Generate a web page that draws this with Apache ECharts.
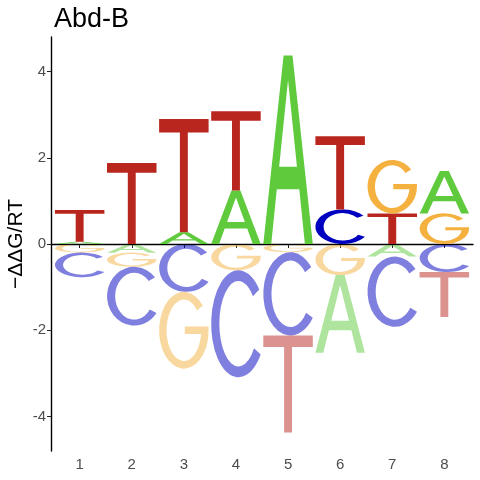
<!DOCTYPE html>
<html>
<head>
<meta charset="utf-8">
<script src="https://cdn.jsdelivr.net/npm/echarts@6/dist/echarts.min.js"></script>
<style>
  html, body { margin: 0; padding: 0; background: #fff; }
  #logo { width: 480px; height: 480px; }
</style>
</head>
<body>
<div id="logo"></div>
<script>
// positions along the motif
var positions = [1, 2, 3, 4, 5, 6, 7, 8];
// -ddG/RT per base at each position (each column sums to ~0)
var valuesA = [0.05, -0.20, 0.27, 1.24, 4.37, -1.80, -0.29, 0.98];
var valuesC = [-0.57, -1.36, -1.11, -2.48, -1.93, 0.80, -1.63, -0.65];
var valuesG = [-0.20, -0.33, -1.78, -0.61, -0.19, -0.72, 1.24, 0.71];
var valuesT = [0.74, 1.88, 2.63, 1.84, -2.25, 1.70, 0.71, -1.04];
var yTicks = [-4, -2, 0, 2, 4];

var bases = ['A', 'C', 'G', 'T'];
var baseColors = ['#5ECA3C', '#0000C0', '#F4B13F', '#B9261E'];

// letter outlines in a 100 x 100 box, stretched into each stack cell
var glyphs = {
    A: 'M0,100 L41,0 L59,0 L100,100 L84,100 L72.7,71 L27.3,71 L16,100 Z M32,59 L68,59 L50,13 Z',
    C: 'M88.3,17.9 A50,50 0 1 0 91,78.7 L78.7,72.9 A35,40 0 1 1 76.8,24.3 Z',
    G: 'M88.3,17.9 A50,50 0 1 0 100,50 L100,45 L52,45 L52,55 L84.8,55 A35,40 0 1 1 76.8,24.3 Z',
    T: 'M0,0 L100,0 L100,12 L58,12 L58,100 L42,100 L42,12 L0,12 Z'
};

var halfWidth = 0.475;

/**
 * 把每个位置的碱基值堆叠起来
 * 正值从0往上，负值从0往下，小的靠近0
 */
function buildStacks() {
    var all = [valuesA, valuesC, valuesG, valuesT];
    var items = [];
    for (var i = 0; i < positions.length; i++) {
        var pos = [], neg = [];
        for (var b = 0; b < bases.length; b++) {
            var v = all[b][i];
            if (v >= 0) pos.push([b, v]); else neg.push([b, v]);
        }
        pos.sort(function (a, c) { return a[1] - c[1]; });
        neg.sort(function (a, c) { return c[1] - a[1]; });
        var top = 0;
        pos.forEach(function (p) {
            items.push([positions[i], top, top + p[1], p[0], 0]);
            top += p[1];
        });
        var bottom = 0;
        neg.forEach(function (p) {
            items.push([positions[i], bottom + p[1], bottom, p[0], 1]);
            bottom += p[1];
        });
    }
    return items;
}

function renderLetter(params, api) {
    var x = api.value(0);
    var lo = api.value(1);
    var hi = api.value(2);
    var b = api.value(3);
    var faded = api.value(4);
    var p0 = api.coord([x - halfWidth, hi]);
    var p1 = api.coord([x + halfWidth, lo]);
    return {
        type: 'path',
        shape: {
            pathData: glyphs[bases[b]],
            layout: 'cover',
            x: p0[0],
            y: p0[1],
            width: p1[0] - p0[0],
            height: p1[1] - p0[1]
        },
        style: {
            fill: baseColors[b],
            opacity: faded ? 0.5 : 1
        }
    };
}

var chart = echarts.init(document.getElementById('logo'));
var option = {
    animation: false,
    backgroundColor: '#fff',
    textStyle: { fontFamily: 'Liberation Sans, Arial, sans-serif' },
    title: {
        text: 'Abd-B',
        left: 49,
        top: 1,
        textStyle: { fontSize: 27, fontWeight: 'normal', color: '#000' }
    },
    grid: { left: 51, right: 7, top: 37, bottom: 29, outerBoundsMode: 'none', containLabel: false },
    xAxis: {
        type: 'value',
        min: 0.45,
        max: 8.55,
        splitLine: { show: false },
        axisLine: { lineStyle: { color: '#000', width: 1.4 } },
        axisTick: { length: 4, lineStyle: { color: '#222', width: 1 }, customValues: positions },
        axisLabel: { fontSize: 15, color: '#4D4D4D', margin: 6, customValues: positions }
    },
    yAxis: {
        type: 'value',
        min: -4.8,
        max: 4.8,
        name: '\u2212\u0394\u0394G/RT',
        nameLocation: 'middle',
        nameGap: 24,
        nameMoveOverlap: false,
        nameTextStyle: { fontSize: 21, color: '#000' },
        splitLine: { show: false },
        axisLine: { onZero: false, lineStyle: { color: '#000', width: 1.4 } },
        axisTick: { length: 4, lineStyle: { color: '#222', width: 1 }, customValues: yTicks },
        axisLabel: { fontSize: 15, color: '#4D4D4D', margin: 5, customValues: yTicks }
    },
    series: [
        {
            type: 'custom',
            renderItem: renderLetter,
            data: buildStacks(),
            encode: { x: 0, y: [1, 2] },
            markLine: {
                silent: true,
                symbol: 'none',
                label: { show: false },
                lineStyle: { color: '#000', width: 1, type: 'solid' },
                data: [{ yAxis: 0 }]
            }
        }
    ]
};
chart.setOption(option);
</script>
</body>
</html>
